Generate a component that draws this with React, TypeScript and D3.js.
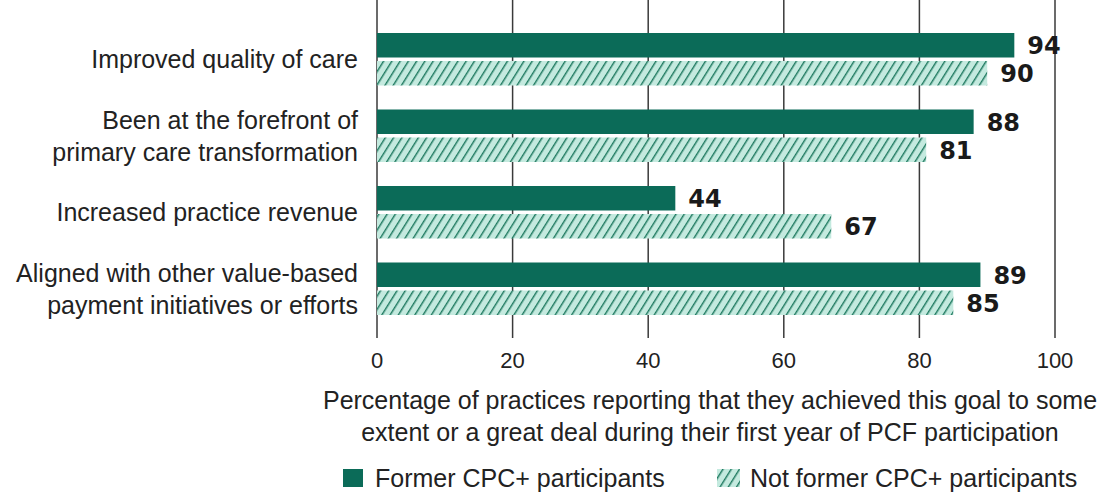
import React from "react";
import * as d3 from "d3";

const categories: string[][] = [
  ["Improved quality of care"],
  ["Been at the forefront of", "primary care transformation"],
  ["Increased practice revenue"],
  ["Aligned with other value-based", "payment initiatives or efforts"],
];
const formerValues = [94, 88, 44, 89];
const notFormerValues = [90, 81, 67, 85];
const xTicks = [0, 20, 40, 60, 80, 100];
const seriesNames = ["Former CPC+ participants", "Not former CPC+ participants"];
const axisTitle = [
  "Percentage of practices reporting that they achieved this goal to some",
  "extent or a great deal during their first year of PCF participation",
];

const W = 1117;
const H = 495;
const SOLID = "#0b6b58";
const HATCH_BG = "#c4eadf";
const HATCH_LINE = "#1f7a60";
const FONT = "'Liberation Sans', Arial, sans-serif";
const TEXT = "#222";

export default function App() {
  const x = d3.scaleLinear().domain([0, 100]).range([377, 1055]);
  const y = d3.scaleBand<number>().domain(d3.range(categories.length)).range([21, 327]);
  const barH = 24.5;
  const gap = 3.5;

  return (
    <svg
      width={W}
      height={H}
      style={{ position: "absolute", left: 0, top: 0, background: "#fff" }}
      fontFamily={FONT}
    >
      <defs>
        <pattern
          id="hatch"
          patternUnits="userSpaceOnUse"
          width={7}
          height={7}
          patternTransform="rotate(32)"
        >
          <rect x={-1} y={-1} width={9} height={9} fill={HATCH_BG} />
          <line x1={0.7} y1={-1} x2={0.7} y2={8} stroke={HATCH_LINE} strokeWidth={1.5} />
        </pattern>
      </defs>
      {xTicks.map((t) => (
        <g key={t}>
          <line x1={x(t)} x2={x(t)} y1={0} y2={338} stroke="#3a3a3a" strokeWidth={1.5} />
          <text x={x(t)} y={368} textAnchor="middle" fontSize={22} fill={TEXT}>
            {t}
          </text>
        </g>
      ))}
      {categories.map((lines, i) => {
        const b = y(i)!;
        const mid = b + y.bandwidth() / 2;
        const solidY = mid - gap / 2 - barH;
        const hatchY = mid + gap / 2;
        return (
          <g key={i}>
            <rect x={x(0)} y={solidY} width={x(formerValues[i]) - x(0)} height={barH} fill={SOLID} />
            <rect x={x(0)} y={hatchY} width={x(notFormerValues[i]) - x(0)} height={barH} fill="url(#hatch)" />
            <text
              x={x(formerValues[i]) + 13}
              y={solidY + barH / 2 + 9}
              fontSize={24}
              fontWeight="bold"
              fill="#1a1a1a"
              fontFamily="'DejaVu Sans', sans-serif"
            >
              {formerValues[i]}
            </text>
            <text
              x={x(notFormerValues[i]) + 13}
              y={hatchY + barH / 2 + 9}
              fontSize={24}
              fontWeight="bold"
              fill="#1a1a1a"
              fontFamily="'DejaVu Sans', sans-serif"
            >
              {notFormerValues[i]}
            </text>
            {lines.map((ln, j) => (
              <text
                key={j}
                x={358}
                y={mid + 9 + (j - (lines.length - 1) / 2) * 32}
                textAnchor="end"
                fontSize={25}
                fill={TEXT}
              >
                {ln}
              </text>
            ))}
          </g>
        );
      })}
      {axisTitle.map((ln, i) => (
        <text key={i} x={710} y={409 + i * 32} textAnchor="middle" fontSize={25} fill={TEXT}>
          {ln}
        </text>
      ))}
      <g>
        <rect x={343} y={469} width={20} height={18} fill={SOLID} />
        <text x={375} y={487} fontSize={25} fill={TEXT}>
          {seriesNames[0]}
        </text>
        <rect x={717} y={469} width={23} height={18} fill="url(#hatch)" />
        <text x={750} y={487} fontSize={25} fill={TEXT}>
          {seriesNames[1]}
        </text>
      </g>
    </svg>
  );
}
